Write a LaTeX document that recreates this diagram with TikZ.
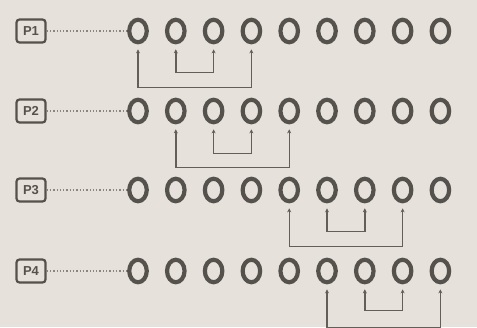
\documentclass[tikz,border=0pt]{standalone}
\usepackage{fontspec}
\setmainfont{Liberation Sans}
\usetikzlibrary{shapes.geometric,arrows.meta}
\definecolor{paper}{HTML}{E6E2DB}
\definecolor{ink}{HTML}{55514C}
\definecolor{lineink}{HTML}{625E58}
\tikzset{
  hole/.style={ellipse, draw=ink, line width=4.2pt, minimum width=17.5pt, minimum height=22.5pt, inner sep=0pt},
  pbox/.style={draw=ink, line width=2.2pt, rounded corners=3pt, minimum width=29pt, minimum height=23pt, inner sep=0pt, font=\bfseries\fontsize{13}{13}\selectfont, text=ink},
  dots/.style={dotted, line width=1.3pt, draw=ink!70},
  bracket/.style={{Stealth[length=4pt,width=4pt]}-{Stealth[length=4pt,width=4pt]}, line width=1.4pt, draw=lineink, shorten <=5pt, shorten >=5pt},
}
\begin{document}
\begin{tikzpicture}[x=1pt,y=-1pt]
\fill[paper] (0,0) rectangle (477,327);
\useasboundingbox (0,0) rectangle (477,327);
\foreach \r/\y in {1/31,2/111,3/190,4/271}{
  \node[pbox] (p\r) at (31,\y) {P\r};
  \foreach \i in {1,...,9}{
    \node[hole] (c\r-\i) at ({138+37.8*(\i-1)},\y) {};
  }
  \draw[dots] (p\r.east) -- (c\r-1.west);
}
% row 1
\draw[bracket] (c1-1.south) -- ++(0,43) -| (c1-4.south);
\draw[bracket] (c1-2.south) -- ++(0,28) -| (c1-3.south);
% row 2
\draw[bracket] (c2-2.south) -- ++(0,43) -| (c2-5.south);
\draw[bracket] (c2-3.south) -- ++(0,29) -| (c2-4.south);
% row 3
\draw[bracket] (c3-5.south) -- ++(0,43) -| (c3-8.south);
\draw[bracket] (c3-6.south) -- ++(0,28) -| (c3-7.south);
% row 4
\draw[bracket] (c4-6.south) -- ++(0,43) -| (c4-9.south);
\draw[bracket] (c4-7.south) -- ++(0,26) -| (c4-8.south);
\end{tikzpicture}
\end{document}
